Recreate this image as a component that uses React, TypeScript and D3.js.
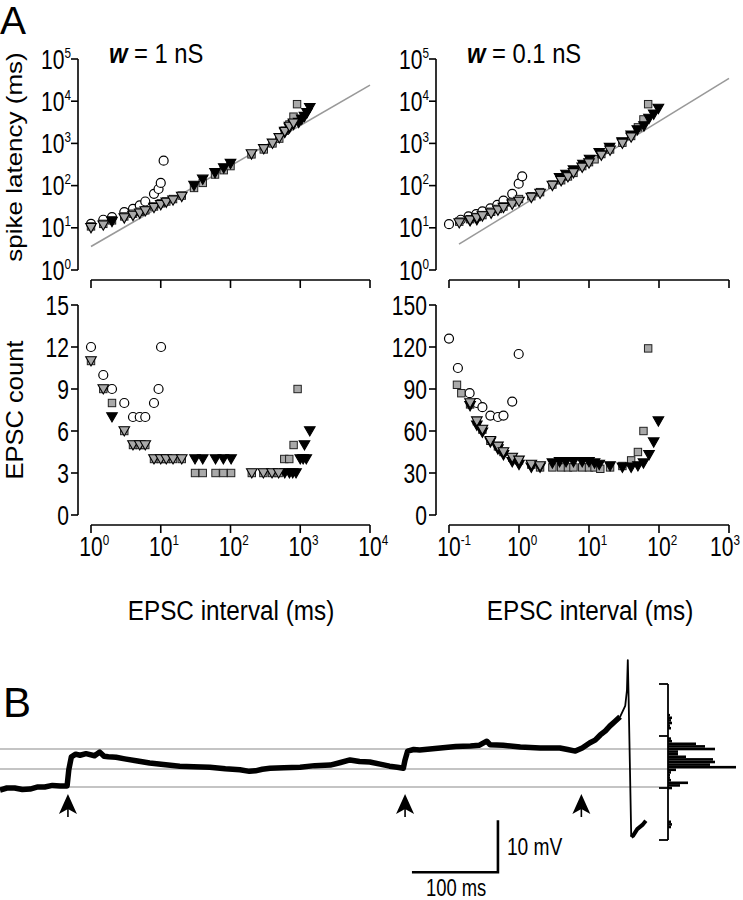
import React from 'react';
import * as d3 from 'd3';

// ---------------- DATA ----------------
// Panel A, w = 1 nS : spike latency (ms) vs EPSC interval (ms)
const tlCircleX = [1, 1.5, 2, 3, 4, 5, 6, 8, 9.3, 10, 11];
const tlCircleY = [12.4, 15.5, 18, 23.6, 28, 34, 42, 64, 83, 116, 390];
const tlSquareX = [1, 1.5, 2, 3, 4, 5, 6, 8, 10, 12, 15, 20, 30, 40, 60, 80, 100, 200, 300, 400, 500, 600, 700, 800, 900];
const tlSquareY = [10.8, 12.4, 15, 18.6, 21.6, 24, 26, 32, 38, 42, 48, 58, 88, 116, 183, 232, 290, 550, 720, 1000, 1300, 2000, 2800, 4300, 8500];
const tlGrayTriX = [1, 1.5, 3, 4, 5, 6, 8, 10, 12, 15, 20, 200, 300, 400, 500, 600, 700, 800];
const tlGrayTriY = [10, 11.5, 17, 19.5, 22, 25, 30, 35, 40, 45, 55, 560, 740, 1000, 1350, 1900, 2500, 3000];
const tlBlackTriX = [2, 30, 40, 60, 80, 100, 600, 700, 800, 950, 1050, 1150, 1250, 1370];
const tlBlackTriY = [14, 100, 140, 200, 260, 330, 1800, 2300, 2800, 3100, 3700, 4300, 5300, 7000];
const tlFitX = [1, 10000];
const tlFitY = [3.6, 24000];

// Panel A, w = 0.1 nS
const trCircleX = [0.1, 0.147, 0.19, 0.245, 0.3, 0.39, 0.49, 0.6, 0.8, 0.99, 1.11];
const trCircleY = [12.2, 15.5, 18.6, 21, 24.5, 29, 35, 44, 64, 111, 166];
const trSquareX = [0.14, 0.2, 0.25, 0.3, 0.4, 0.5, 0.6, 0.8, 1, 1.5, 2, 3, 4, 5, 6, 8, 10, 12, 15, 20, 30, 40, 50, 60, 70];
const trSquareY = [14, 16, 18, 20, 24, 28, 32, 40, 48, 56, 70, 106, 134, 165, 200, 290, 360, 420, 560, 720, 1040, 1500, 2400, 3700, 8500];
const trGrayTriX = [0.14, 0.2, 0.25, 0.3, 0.4, 0.5, 0.6, 0.8, 1, 1.5, 2, 3, 4, 5, 6, 8, 10, 15, 20, 30, 40];
const trGrayTriY = [13, 15, 17, 19, 22, 26, 30, 36, 42, 52, 65, 100, 130, 160, 200, 270, 340, 520, 680, 1000, 1400];
const trBlackTriX = [0.2, 0.25, 3.8, 4.7, 6, 8.2, 10.2, 14, 19.7, 29.7, 40, 49, 61, 72, 84, 98];
const trBlackTriY = [14.5, 15.5, 152, 183, 232, 316, 415, 600, 790, 1070, 1550, 2080, 2580, 3870, 4900, 6700];
const trFitX = [0.139, 1000];
const trFitY = [4.1, 34700];

// EPSC count vs EPSC interval, w = 1 nS
const blCircleX = [1, 1.5, 2, 3, 4, 5, 6, 8, 9.3, 10.1];
const blCircleY = [12, 10, 9, 8, 7, 7, 7, 8, 9, 12];
const blSquareX = [1, 1.5, 2, 3, 4, 5, 6, 8, 10, 12, 15, 20, 31, 40, 61, 79, 102, 202, 296, 394, 490, 590, 696, 803, 916];
const blSquareY = [11, 9, 8, 6, 5, 5, 5, 4, 4, 4, 4, 4, 3, 3, 3, 3, 3, 3, 3, 3, 3, 4, 4, 5, 9];
const blGrayTriX = [1, 1.5, 3, 4, 5, 6, 8, 10, 12, 15, 20, 202, 296, 394, 490];
const blGrayTriY = [11, 9, 6, 5, 5, 5, 4, 4, 4, 4, 4, 3, 3, 3, 3];
const blBlackTriX = [2, 31, 40, 61, 79, 102, 600, 700, 780, 870, 1000, 1100, 1220, 1150, 1370];
const blBlackTriY = [7, 4, 4, 4, 4, 4, 3, 3, 3, 3, 4, 4, 4, 5, 6];

// EPSC count vs EPSC interval, w = 0.1 nS
const brCircleX = [0.1, 0.134, 0.197, 0.25, 0.3, 0.39, 0.5, 0.6, 0.8, 0.99];
const brCircleY = [126, 105, 87, 80, 77, 71, 70, 71, 81, 115];
const brSquareX = [0.13, 0.15, 0.2, 0.25, 0.3, 0.39, 0.5, 0.6, 0.8, 1, 1.5, 2, 3, 4, 5, 6, 8, 10, 12, 14.5, 20, 30, 40, 50, 60, 70];
const brSquareY = [93, 87, 79, 67, 61, 53, 49, 45, 41, 39, 36, 34, 34, 34, 34, 34, 34, 34, 34, 33, 34, 35, 39, 45, 60, 119];
const brGrayTriX = [0.2, 0.25, 0.3, 0.39, 0.5, 0.6, 0.8, 1, 1.5, 2];
const brGrayTriY = [80, 67, 61, 53, 49, 45, 41, 39, 36, 35];
const brBlackTriX = [0.2, 0.25, 0.3, 0.39, 0.5, 0.6, 0.8, 1, 1.5, 2, 3, 3.8, 4.7, 6, 8, 10, 12, 14, 20, 30, 40, 50, 60, 72, 84, 98];
const brBlackTriY = [78, 64, 59, 52, 47, 43, 38, 36, 34, 34, 37, 38, 38, 38, 38, 38, 37, 36, 35, 34, 34, 35, 37, 43, 52, 67];

// Axis ticks
const latencyTicks = [1, 10, 100, 1000, 10000, 100000];
const leftIntervalTicks = [1, 10, 100, 1000, 10000];
const rightIntervalTicks = [0.1, 1, 10, 100, 1000];
const leftCountTicks = [0, 3, 6, 9, 12, 15];
const rightCountTicks = [0, 30, 60, 90, 120, 150];

// Panel B : membrane potential trace (time ms, mV)
const traceT = [0, 8, 17, 26, 35, 44, 52, 61, 70, 78, 80, 83, 88, 93, 100, 110, 116, 121, 126, 135, 145, 160, 174, 190, 209, 225, 244, 262, 279, 290, 297, 305, 314, 330, 349, 366, 384, 396, 407, 418, 430, 442, 453, 462, 469, 471, 474, 481, 488, 500, 512, 530, 547, 557, 566, 570, 585, 605, 628, 651, 660, 669, 677, 686, 692, 698, 704, 709, 715, 721, 727, 729, 730, 731, 734, 736, 741, 747, 751];
const traceV = [-60.4, -60.0, -60.0, -60.3, -60.2, -59.8, -59.8, -59.5, -59.6, -59.6, -56.5, -54.0, -53.5, -53.7, -53.4, -53.8, -53.1, -53.9, -54.0, -54.1, -54.4, -54.8, -55.2, -55.5, -55.8, -55.9, -56.0, -56.3, -56.5, -56.8, -56.7, -56.4, -56.2, -56.1, -56.0, -55.7, -55.6, -55.1, -54.6, -54.9, -55.0, -55.4, -55.8, -56.0, -56.2, -54.6, -52.9, -52.6, -52.7, -52.5, -52.3, -52.0, -51.9, -51.8, -51.0, -51.7, -51.8, -52.1, -52.3, -52.3, -52.6, -52.9, -52.3, -51.3, -50.8, -49.8, -49.0, -48.1, -47.2, -46.3, -44.2, -41.2, -35.4, -43.1, -69.4, -69.2, -67.9, -67.1, -66.3];
const epscTimes = [79, 471, 676];
const refLevels = [-52.5, -56.35, -59.8];
// Voltage histogram (bin centre mV, count)
const histV = [-46, -46.5, -47, -47.5, -48, -48.5, -50.5, -51, -51.5, -52, -52.5, -53, -53.5, -54, -54.5, -55, -55.5, -56, -56.5, -57, -57.5, -58, -58.5, -59, -59.5, -60, -66.5, -67, -67.5];
const histN = [2, 4, 3, 4, 2, 3, 3, 4, 28, 37, 47, 10, 10, 18, 45, 47, 42, 68, 8, 3, 2, 2, 3, 20, 12, 4, 3, 4, 3];
const histTicks = [-40, -50, -60, -70];
const histBin = 0.5;
// scale bar
const barT0 = 479;
const barDur = 100;
const barV0 = -76.2;
const barAmp = 10;

// ---------------- HELPERS ----------------
const FONT = "'Liberation Sans', Arial, Helvetica, sans-serif";
const GRAY = '#a9a9a9';
const TICK_F = 27;
const TICK_C = 0.78;
const SUP_F = 15;

const zip = (xs: number[], ys: number[]) => xs.map((x, i) => [x, ys[i]] as [number, number]);

function Markers({ pts, kind, xs, ys }: { pts: [number, number][]; kind: string; xs: any; ys: any }) {
  return (
    <g>
      {pts.map(([x, y], i) => {
        const cx = xs(x);
        const cy = ys(y);
        if (kind === 'circle')
          return <circle key={i} cx={cx} cy={cy} r={4.5} fill="#fff" stroke="#000" strokeWidth={1.2} />;
        if (kind === 'square')
          return <rect key={i} x={cx - 3.7} y={cy - 3.7} width={7.4} height={7.4} fill={GRAY} stroke="#222" strokeWidth={1} />;
        const fill = kind === 'blacktri' ? '#000' : GRAY;
        return (
          <path key={i} d={`M${cx - 5.3},${cy - 4.3} L${cx + 5.3},${cy - 4.3} L${cx},${cy + 5} Z`} fill={fill} stroke="#000" strokeWidth={1.1} strokeLinejoin="miter" />
        );
      })}
    </g>
  );
}

function PowLabel({ x, y, exp, anchor, maxRight }: { x: number; y: number; exp: number; anchor: 'middle' | 'end'; maxRight?: number }) {
  const w10 = 1.112 * TICK_F;
  const supW = (exp < 0 ? 0.889 : 0.556) * SUP_F;
  let startX = anchor === 'middle' ? -w10 / 2 : -(w10 + supW);
  if (maxRight !== undefined) {
    const over = x + (startX + w10 + supW) * TICK_C - maxRight;
    if (over > 0) startX -= over / TICK_C;
  }
  return (
    <text transform={`translate(${x},${y}) scale(${TICK_C},1)`} fontFamily={FONT} fontSize={TICK_F} fill="#000">
      <tspan x={startX}>10</tspan>
      <tspan dy={-11} fontSize={SUP_F}>{exp < 0 ? '-' + Math.abs(exp) : exp}</tspan>
    </text>
  );
}

function LogXAxis({ xs, ticks, y, labels }: { xs: any; ticks: number[]; y: number; labels: boolean }) {
  const r = xs.range();
  return (
    <g>
      <line x1={r[0]} x2={r[1]} y1={y} y2={y} stroke="#000" strokeWidth={1.6} />
      {ticks.map((t, i) => (
        <g key={i}>
          <line x1={xs(t)} x2={xs(t)} y1={y} y2={y + 8} stroke="#000" strokeWidth={1.6} />
          {labels && <PowLabel x={xs(t)} y={y + 31} exp={Math.round(Math.log10(t))} anchor="middle" maxRight={740} />}
        </g>
      ))}
    </g>
  );
}

function YAxis({ ys, ticks, x, log }: { ys: any; ticks: number[]; x: number; log: boolean }) {
  const r = ys.range();
  return (
    <g>
      <line x1={x} x2={x} y1={r[0]} y2={r[1]} stroke="#000" strokeWidth={1.6} />
      {ticks.map((t, i) => (
        <g key={i}>
          <line x1={x - 7} x2={x} y1={ys(t)} y2={ys(t)} stroke="#000" strokeWidth={1.6} />
          {log ? (
            <PowLabel x={x - 7} y={ys(t) + 9.5} exp={Math.round(Math.log10(t))} anchor="end" />
          ) : (
            <text transform={`translate(${x - 9},${ys(t) + 9.5}) scale(${TICK_C},1)`} fontFamily={FONT} fontSize={TICK_F} textAnchor="end">
              {t}
            </text>
          )}
        </g>
      ))}
    </g>
  );
}

function Panel({ xs, ys, log, yTicks, xTicks, xAxisY, yAxisX, labels, circles, squares, grayTris, blackTris, fit }: any) {
  const fitLine = d3.line<[number, number]>().x((d) => xs(d[0])).y((d) => ys(d[1]));
  return (
    <g>
      <YAxis ys={ys} ticks={yTicks} x={yAxisX} log={log} />
      <LogXAxis xs={xs} ticks={xTicks} y={xAxisY} labels={labels} />
      {fit && <path d={fitLine(fit) || ''} stroke="#999" strokeWidth={1.6} fill="none" />}
      <Markers pts={circles} kind="circle" xs={xs} ys={ys} />
      <Markers pts={squares} kind="square" xs={xs} ys={ys} />
      <Markers pts={blackTris} kind="blacktri" xs={xs} ys={ys} />
      <Markers pts={grayTris} kind="graytri" xs={xs} ys={ys} />
    </g>
  );
}

export default function App() {
  const xL = d3.scaleLog().domain([1, 10000]).range([91, 370]);
  const xR = d3.scaleLog().domain([0.1, 1000]).range([449, 729]);
  const yLat = d3.scaleLog().domain([1, 100000]).range([270, 59]);
  const yCntL = d3.scaleLinear().domain([0, 15]).range([515, 305]);
  const yCntR = d3.scaleLinear().domain([0, 150]).range([515, 305]);

  const tS = d3.scaleLinear().domain([0, 100]).range([0, 86]);
  const vS = d3.scaleLinear().domain([-60, -50]).range([788, 736]);
  const hS = d3.scaleLinear().domain([0, 68]).range([668, 736]);

  const trace = zip(traceT, traceV);
  const lineGen = d3.line<[number, number]>().x((d) => tS(d[0])).y((d) => vS(d[1]));
  const pre = trace.filter((d) => d[0] <= 721);
  const spike = trace.filter((d) => d[0] >= 721 && d[0] <= 734);
  const post = trace.filter((d) => d[0] >= 734);

  const binH = Math.abs(vS(0) - vS(histBin));

  return (
    <svg width={743} height={900} style={{ position: 'absolute', left: 0, top: 0, background: '#fff' }}>
      <rect x={0} y={0} width={743} height={900} fill="#fff" />
      <text x={0} y={34} fontFamily={FONT} fontSize={39}>A</text>
      <text x={3} y={717} fontFamily={FONT} fontSize={42}>B</text>

      {/* titles */}
      <text transform="translate(109,63) scale(0.88,1)" fontFamily={FONT} fontSize={27}>
        <tspan fontStyle="italic" fontWeight="bold">w</tspan> = 1 nS
      </text>
      <text transform="translate(467,63) scale(0.88,1)" fontFamily={FONT} fontSize={27}>
        <tspan fontStyle="italic" fontWeight="bold">w</tspan> = 0.1 nS
      </text>

      {/* y titles */}
      <text transform="translate(22,157) rotate(-90) scale(1,0.85)" fontFamily={FONT} fontSize={26} textAnchor="middle">
        spike latency (ms)
      </text>
      <text transform="translate(23,410) rotate(-90) scale(1,0.95)" fontFamily={FONT} fontSize={25.5} textAnchor="middle">
        EPSC count
      </text>
      {/* x titles */}
      <text transform="translate(231,620) scale(0.9,1)" fontFamily={FONT} fontSize={27} textAnchor="middle">EPSC interval (ms)</text>
      <text transform="translate(590,620) scale(0.9,1)" fontFamily={FONT} fontSize={27} textAnchor="middle">EPSC interval (ms)</text>

      <Panel xs={xL} ys={yLat} log={true} yTicks={latencyTicks} xTicks={leftIntervalTicks} xAxisY={280} yAxisX={78} labels={false}
        circles={zip(tlCircleX, tlCircleY)} squares={zip(tlSquareX, tlSquareY)} grayTris={zip(tlGrayTriX, tlGrayTriY)} blackTris={zip(tlBlackTriX, tlBlackTriY)} fit={zip(tlFitX, tlFitY)} />
      <Panel xs={xR} ys={yLat} log={true} yTicks={latencyTicks} xTicks={rightIntervalTicks} xAxisY={280} yAxisX={436} labels={false}
        circles={zip(trCircleX, trCircleY)} squares={zip(trSquareX, trSquareY)} grayTris={zip(trGrayTriX, trGrayTriY)} blackTris={zip(trBlackTriX, trBlackTriY)} fit={zip(trFitX, trFitY)} />
      <Panel xs={xL} ys={yCntL} log={false} yTicks={leftCountTicks} xTicks={leftIntervalTicks} xAxisY={525} yAxisX={78} labels={true}
        circles={zip(blCircleX, blCircleY)} squares={zip(blSquareX, blSquareY)} grayTris={zip(blGrayTriX, blGrayTriY)} blackTris={zip(blBlackTriX, blBlackTriY)} />
      <Panel xs={xR} ys={yCntR} log={false} yTicks={rightCountTicks} xTicks={rightIntervalTicks} xAxisY={525} yAxisX={436} labels={true}
        circles={zip(brCircleX, brCircleY)} squares={zip(brSquareX, brSquareY)} grayTris={zip(brGrayTriX, brGrayTriY)} blackTris={zip(brBlackTriX, brBlackTriY)} />

      {/* Panel B */}
      {refLevels.map((v, i) => (
        <line key={i} x1={0} x2={668} y1={vS(v)} y2={vS(v)} stroke="#b0b0b0" strokeWidth={1.6} />
      ))}
      <path d={lineGen(pre) || ''} fill="none" stroke="#000" strokeWidth={5.5} strokeLinejoin="round" />
      <path d={lineGen(spike) || ''} fill="none" stroke="#000" strokeWidth={1.8} strokeLinejoin="round" />
      <path d={lineGen(post) || ''} fill="none" stroke="#000" strokeWidth={4} strokeLinejoin="round" />

      {epscTimes.map((t, i) => {
        const x = tS(t);
        const y = 794;
        return (
          <g key={i}>
            <path d={`M${x},${y} L${x + 9},${y + 20} L${x},${y + 15} L${x - 9},${y + 20} Z`} fill="#000" />
            <line x1={x} x2={x} y1={y + 12} y2={y + 23} stroke="#000" strokeWidth={1.6} />
          </g>
        );
      })}

      {/* histogram */}
      {histV.map((v, i) => (
        <rect key={i} x={hS(0)} y={vS(v) - binH / 2} width={hS(histN[i]) - hS(0)} height={binH} fill="#000" />
      ))}
      <line x1={668} x2={668} y1={vS(histTicks[0])} y2={vS(histTicks[histTicks.length - 1])} stroke="#000" strokeWidth={1.8} />
      {histTicks.map((v, i) => (
        <line key={i} x1={659} x2={668} y1={vS(v)} y2={vS(v)} stroke="#000" strokeWidth={1.8} />
      ))}

      {/* scale bar */}
      <path d={`M${tS(barT0)},${vS(barV0)} L${tS(barT0 + barDur)},${vS(barV0)} L${tS(barT0 + barDur)},${vS(barV0 + barAmp)}`} fill="none" stroke="#000" strokeWidth={2.6} />
      <text transform={`translate(${tS(barT0 + barDur) + 9},855) scale(0.8,1)`} fontFamily={FONT} fontSize={24}>10 mV</text>
      <text transform={`translate(${tS(barT0) + 14},896) scale(0.8,1)`} fontFamily={FONT} fontSize={23}>100 ms</text>
    </svg>
  );
}
